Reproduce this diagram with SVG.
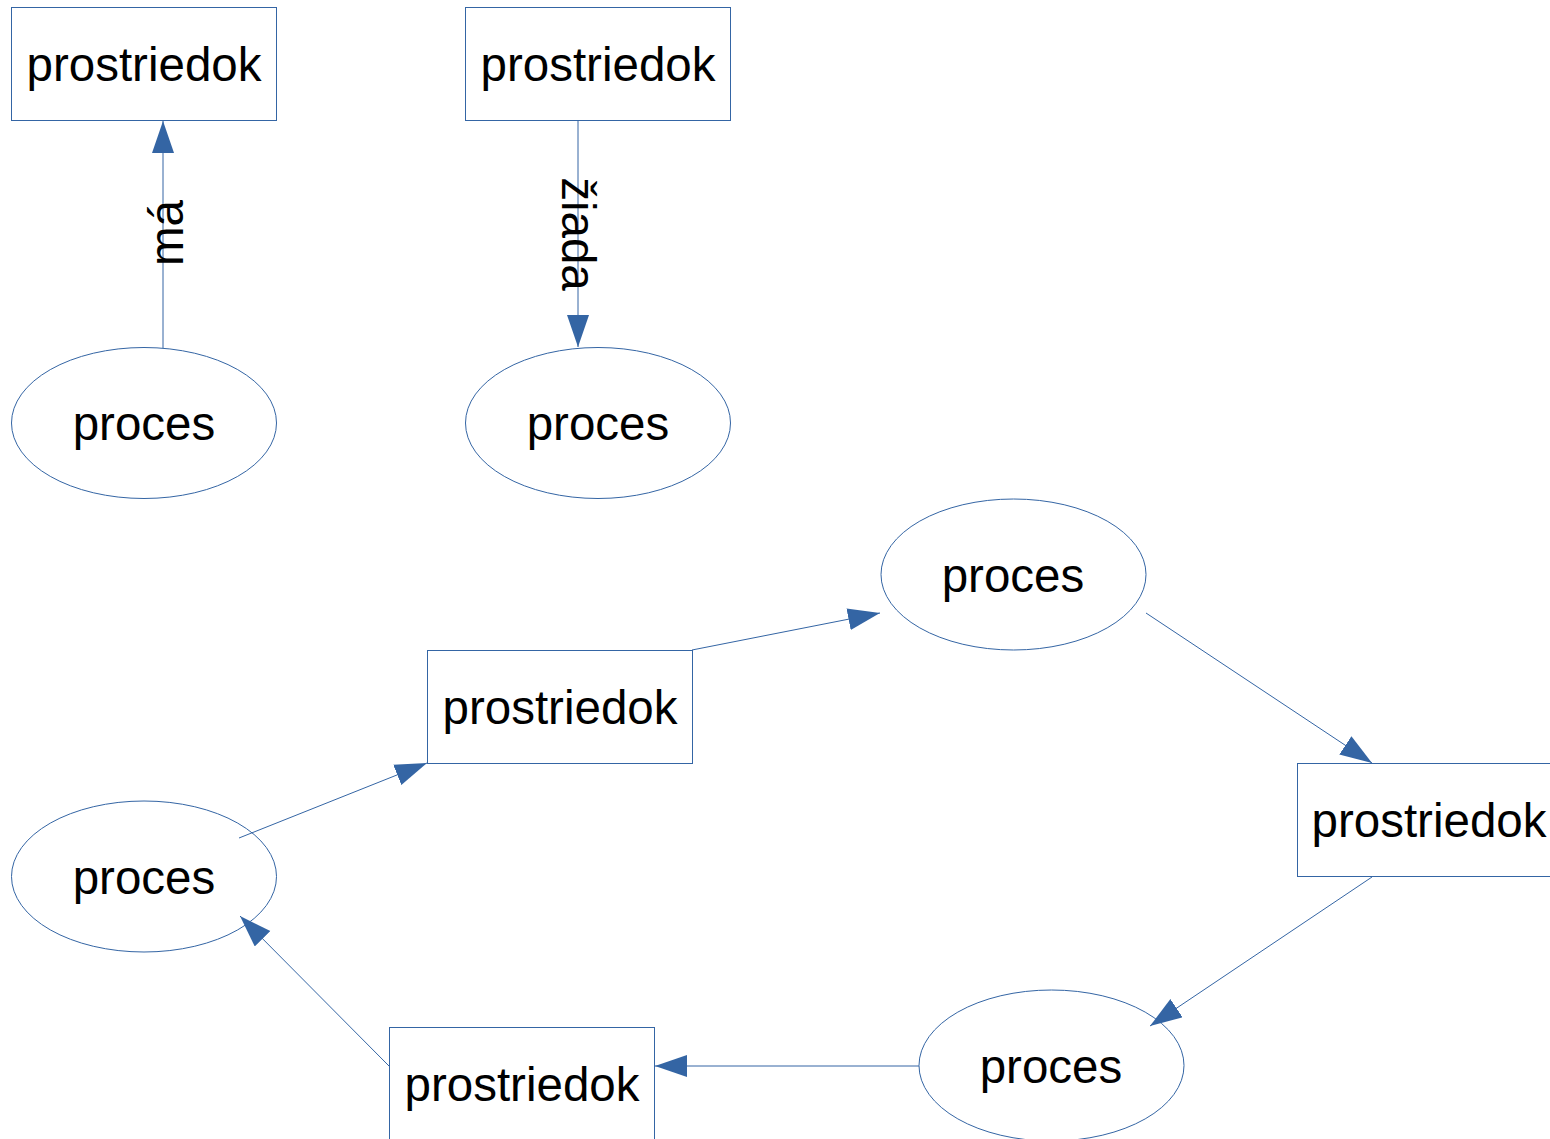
<svg xmlns="http://www.w3.org/2000/svg" width="1550" height="1139" viewBox="0 0 1550 1139">
<style>
.shape{fill:#ffffff;stroke:#3465a4;stroke-width:1}
.lbl{font-family:"Liberation Sans",Arial,sans-serif;font-size:47.5px;fill:#000000;text-anchor:middle}
.edge{fill:none;stroke:#3465a4;stroke-width:1;marker-end:url(#arr)}
</style>
<defs>
<marker id="arr" markerUnits="userSpaceOnUse" markerWidth="34" markerHeight="24" refX="32" refY="11" orient="auto">
<path d="M0,0 L32,11 L0,22 Z" fill="#3465a4"/>
</marker>
</defs>
<rect width="1550" height="1139" fill="#ffffff"/>
<g id="node-r1"><rect class="shape" x="11.5" y="7.5" width="265" height="113"/><text class="lbl" x="144" y="81">prostriedok</text></g>
<g id="node-r2"><rect class="shape" x="465.5" y="7.5" width="265" height="113"/><text class="lbl" x="598" y="81">prostriedok</text></g>
<g id="node-p1"><ellipse class="shape" cx="144" cy="423" rx="132.5" ry="75.5"/><text class="lbl" x="144" y="440">proces</text></g>
<g id="node-p2"><ellipse class="shape" cx="598" cy="423" rx="132.5" ry="75.5"/><text class="lbl" x="598" y="440">proces</text></g>
<g id="node-pA"><ellipse class="shape" cx="144" cy="876.5" rx="132.5" ry="75.5"/><text class="lbl" x="144" y="894">proces</text></g>
<g id="node-rB"><rect class="shape" x="427.5" y="650.5" width="265" height="113"/><text class="lbl" x="560" y="724">prostriedok</text></g>
<g id="node-pC"><ellipse class="shape" cx="1013.5" cy="574.5" rx="132.5" ry="75.5"/><text class="lbl" x="1013" y="592">proces</text></g>
<g id="node-rD"><rect class="shape" x="1297.5" y="763.5" width="265" height="113"/><text class="lbl" x="1429" y="837">prostriedok</text></g>
<g id="node-pE"><ellipse class="shape" cx="1051.5" cy="1065.5" rx="132.5" ry="75.5"/><text class="lbl" x="1051" y="1083">proces</text></g>
<g id="node-rF"><rect class="shape" x="389.5" y="1027.5" width="265" height="113"/><text class="lbl" x="522" y="1101">prostriedok</text></g>
<g id="connectors">
<line class="edge" x1="163" y1="348" x2="163" y2="121"/>
<line class="edge" x1="578" y1="121" x2="578" y2="347"/>
<line class="edge" x1="239" y1="838" x2="427" y2="763"/>
<line class="edge" x1="692" y1="650" x2="880" y2="613"/>
<line class="edge" x1="1146" y1="613" x2="1372" y2="763"/>
<line class="edge" x1="1372" y1="877" x2="1150" y2="1026"/>
<line class="edge" x1="919" y1="1066" x2="655" y2="1066"/>
<line class="edge" x1="389" y1="1066" x2="240" y2="916"/>
<text class="lbl" transform="translate(183,233) rotate(-90)">má</text>
<text class="lbl" transform="translate(562,234) rotate(90)">žiada</text>
</g>
</svg>
